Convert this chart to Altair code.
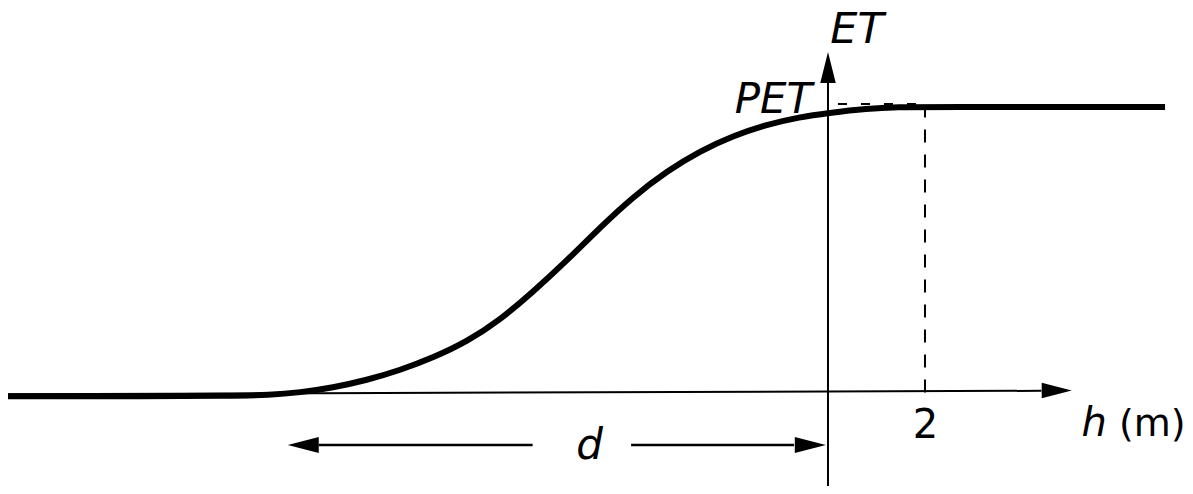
import altair as alt
import pandas as pd

# ---- data (h in metres, ET relative to PET) ----
curve_h = [-16.93, -13.98, -12.33, -11.51, -10.89, -10.21, -9.51, -8.82, -8.14, -7.44,
           -6.76, -6.08, -5.38, -4.70, -4.02, -3.32, -2.64, -1.96, -1.26, -0.58,
           0.0, 0.80, 1.48, 2.04, 6.95]
curve_et = [-0.013, -0.013, -0.012, -0.009, 0.0, 0.017, 0.043, 0.078, 0.122, 0.178,
            0.254, 0.352, 0.462, 0.577, 0.684, 0.774, 0.844, 0.897, 0.937, 0.963,
            0.977, 0.993, 0.998, 0.998, 0.998]

# axes
haxis_h = [-16.93, 4.40]
haxis_et = [-0.0063, 0.006]
vaxis_h = [0.0, 0.0]
vaxis_et = [-0.40, 1.082]
# arrowheads
harrow = {"h": [4.716], "et": [0.007]}
varrow = {"h": [0.0], "et": [1.136]}
darrow_left = {"h": [-10.82], "et": [-0.1836]}
darrow_right = {"h": [-0.365], "et": [-0.1836]}
# d-span arrows
dline_left_h = [-10.5, -6.09]
dline_right_h = [-4.06, -0.7]
dline_et = -0.1836
# dashed guides
dash_h_h = [0.206, 2.0]
dash_h_et = 1.009
dash_v_h = 2.0
dash_v_et = [0.0, 0.998]

# labels
labels_italic = pd.DataFrame({
    "h": [0.598, -1.124, 5.49, -4.918],
    "et": [1.222, 0.977, -0.152, -0.2325],
    "t": ["ET", "PET", "h", "d"],
    "s": [43, 42, 40, 42],
})
labels_plain = pd.DataFrame({
    "h": [2.01],
    "et": [-0.159],
    "t": ["2"],
})
unit_label = pd.DataFrame({"h": [6.0], "et": [-0.152], "t": ["(m)"]})

X = alt.Scale(domain=[-16.907, 7.361], nice=False, zero=False)
Y = alt.Scale(domain=[-0.3269, 1.3444], nice=False, zero=False)


def xe(f="h"):
    return alt.X(f"{f}:Q", scale=X, axis=None)


def ye(f="et"):
    return alt.Y(f"{f}:Q", scale=Y, axis=None)


curve = alt.Chart(pd.DataFrame({"h": curve_h, "et": curve_et})).mark_line(
    color="black", strokeWidth=6, interpolate="basis", strokeCap="butt"
).encode(x=xe(), y=ye())

haxis = alt.Chart(pd.DataFrame({"h": [haxis_h[0]], "h2": [haxis_h[1]],
                                "et": [haxis_et[0]], "et2": [haxis_et[1]]})).mark_rule(
    color="black", strokeWidth=2
).encode(x=xe(), x2="h2:Q", y=ye(), y2="et2:Q")

vaxis = alt.Chart(pd.DataFrame({"h": [vaxis_h[0]], "et": [vaxis_et[0]], "et2": [vaxis_et[1]]})).mark_rule(
    color="black", strokeWidth=2
).encode(x=xe(), y=ye(), y2="et2:Q")

RIGHT = "M1,0L-1,-0.516L-1,0.516Z"
LEFT = "M-1,0L1,-0.516L1,0.516Z"
UP = "M0,-1L0.5,1L-0.5,1Z"


def head(d, shape, size=961):
    return alt.Chart(pd.DataFrame(d)).mark_point(
        shape=shape, size=size, filled=True, color="black", opacity=1, strokeWidth=0
    ).encode(x=xe(), y=ye())


harrow_m = head(harrow, RIGHT, 900)
varrow_m = head(varrow, UP, 961)
dl_m = head(darrow_left, LEFT, 961)
dr_m = head(darrow_right, RIGHT, 961)

dlines = alt.Chart(pd.DataFrame({
    "h": [dline_left_h[0], dline_right_h[0]],
    "h2": [dline_left_h[1], dline_right_h[1]],
    "et": [dline_et, dline_et],
})).mark_rule(color="black", strokeWidth=2.5).encode(x=xe(), x2="h2:Q", y=ye())

dash_h = alt.Chart(pd.DataFrame({"h": [dash_h_h[0]], "h2": [dash_h_h[1]], "et": [dash_h_et]})).mark_rule(
    color="black", strokeWidth=2, strokeDash=[9, 14]
).encode(x=xe(), x2="h2:Q", y=ye())

dash_v = alt.Chart(pd.DataFrame({"h": [dash_v_h], "et": [dash_v_et[0]], "et2": [dash_v_et[1]]})).mark_rule(
    color="black", strokeWidth=2, strokeDash=[13, 12]
).encode(x=xe(), y=ye(), y2="et2:Q")

txt_it = alt.Chart(labels_italic).mark_text(
    font="DejaVu Sans", fontStyle="italic", color="black", align="center", baseline="alphabetic"
).encode(x=xe(), y=ye(), text="t:N", size=alt.Size("s:Q", scale=None, legend=None))

txt_pl = alt.Chart(labels_plain).mark_text(
    font="DejaVu Sans", color="black", align="center", baseline="alphabetic", fontSize=40
).encode(x=xe(), y=ye(), text="t:N")

txt_unit = alt.Chart(unit_label).mark_text(
    font="DejaVu Sans", color="black", align="left", baseline="alphabetic", fontSize=38
).encode(x=xe(), y=ye(), text="t:N")

chart = alt.layer(
    haxis, vaxis, dash_h, dash_v, curve, harrow_m, varrow_m, dlines, dl_m, dr_m,
    txt_it, txt_pl, txt_unit
).properties(
    width=1177, height=478, padding=0, autosize=alt.AutoSizeParams(type="none")
).configure_view(stroke=None)

chart.save("out.html", embed_options={"renderer": "svg", "actions": False})
